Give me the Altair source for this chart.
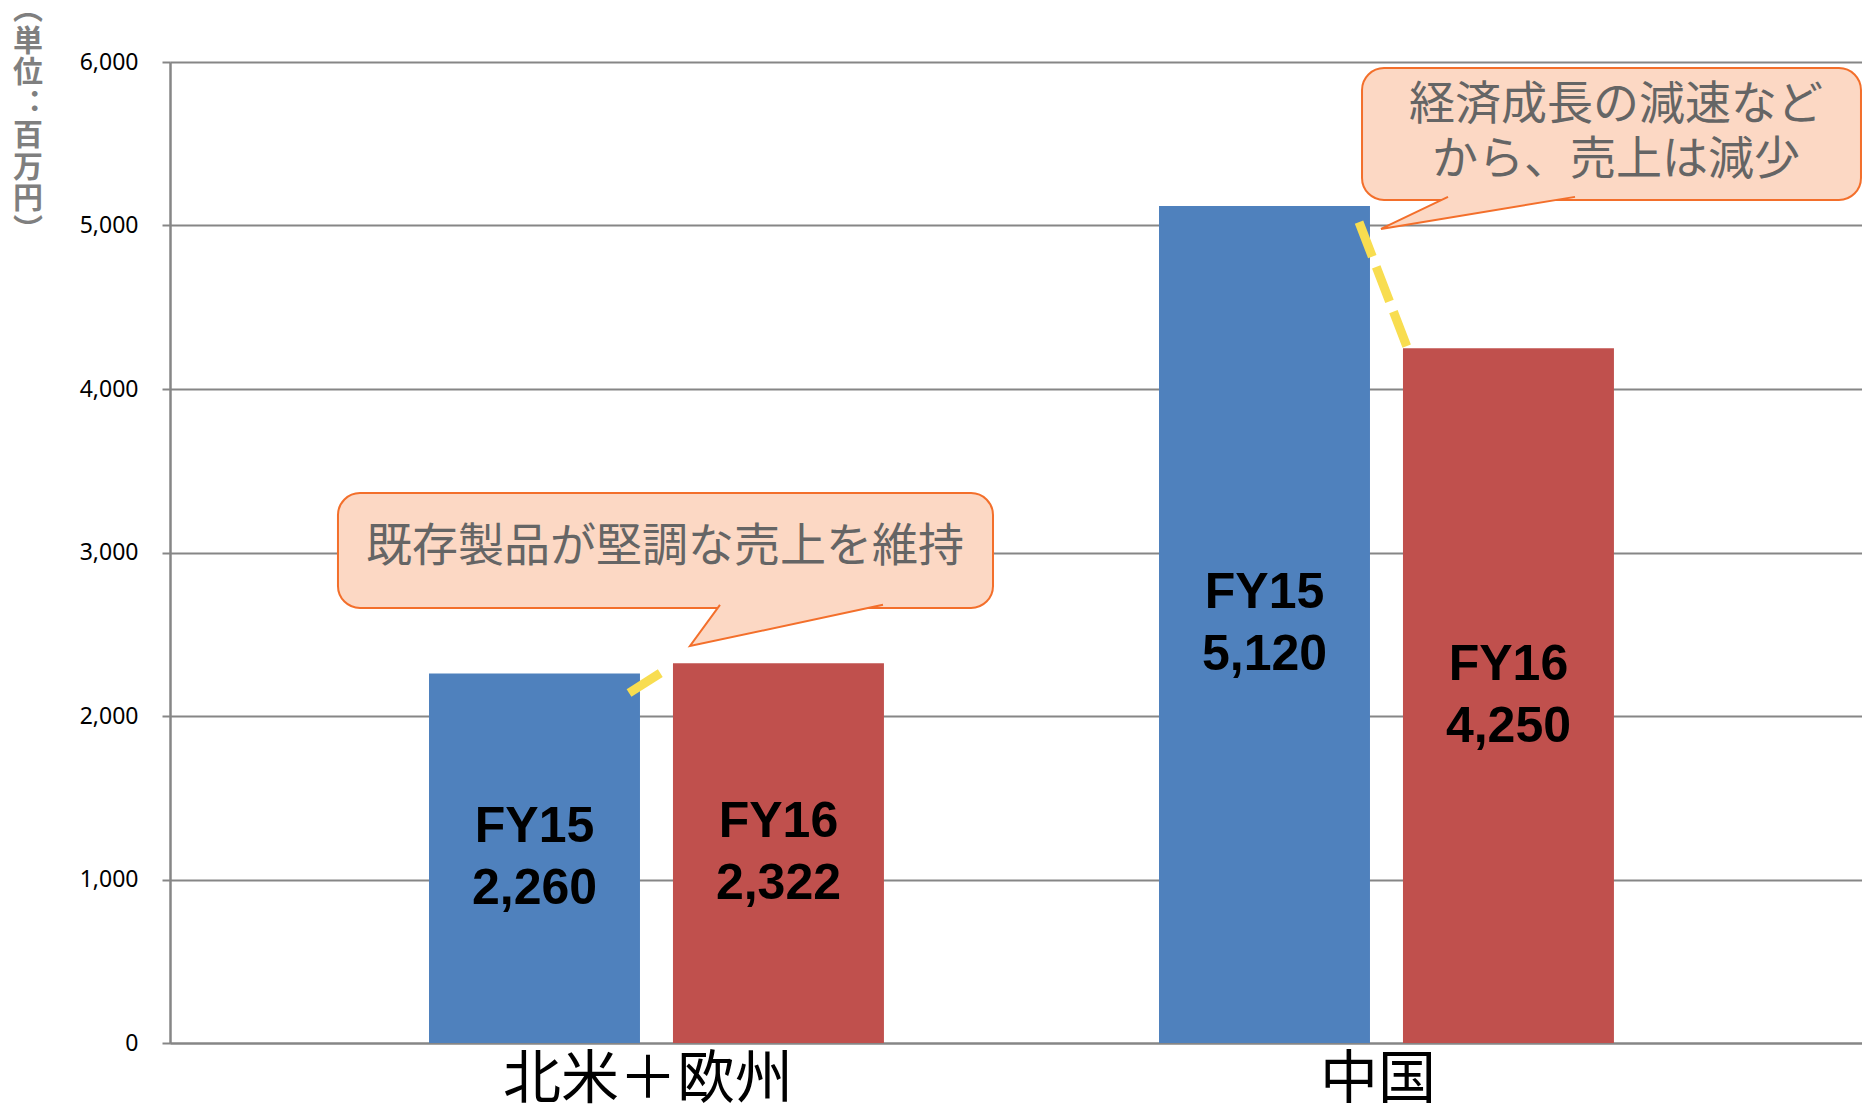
import json
import altair as alt
import pandas as pd

# ---------------- data ----------------
CATEGORIES = ["北米＋欧州", "中国"]
CATEGORY_POS = [1, 2]
SERIES = ["FY15", "FY16"]
FY15_VALUES = [2260, 5120]
FY16_VALUES = [2322, 4250]
Y_TICKS = [0, 1000, 2000, 3000, 4000, 5000, 6000]
Y_TITLE = ["︵", "単", "位", "︓", "百", "万", "円", "︶"]

# annotations, anchored in data coordinates (x: category position, y: 百万円)
CALLOUT1_LINES = ["既存製品が堅調な売上を維持"]
CALLOUT1_TEXT_X = [1.0117]
CALLOUT1_TEXT_Y = [3034]
CALLOUT1_BOX_X = [0.5637]
CALLOUT1_BOX_X2 = [1.4610]
CALLOUT1_BOX_Y = [2661]
CALLOUT1_BOX_Y2 = [3364]
CALLOUT1_POINTER_X = [1.087, 1.0459, 1.3103]
CALLOUT1_POINTER_Y = [2680, 2428, 2680]

CALLOUT2_LINES = ["経済成長の減速など", "から、売上は減少"]
CALLOUT2_TEXT_X = [2.3144, 2.3144]
CALLOUT2_TEXT_Y = [5737, 5401]
CALLOUT2_BOX_X = [1.9665]
CALLOUT2_BOX_X2 = [2.650]
CALLOUT2_BOX_Y = [5156]
CALLOUT2_BOX_Y2 = [5963]
CALLOUT2_POINTER_X = [2.0843, 1.9925, 2.2583]
CALLOUT2_POINTER_Y = [5175, 4979, 5175]

CONNECTOR1_X = [0.9624, 1.0076]
CONNECTOR1_Y = [2141, 2269]
CONNECTOR2_X = [1.9624, 2.0281]
CONNECTOR2_Y = [5021, 4257]

# ---------------- style ----------------
GAP = 0.0226     # half gap between the two bars of a group (category units)
BAR_W = 0.289    # bar width (category units)
X_DOMAIN = [0.3336, 2.6514]
Y_DOMAIN = [0, 6000]
COLORS = ["#4F81BD", "#C0504D"]
GRID = "#868686"
CALLOUT_FILL = "#FCD8C4"
CALLOUT_STROKE = "#F36F2B"
CALLOUT_TEXT = "#656565"
YELLOW = "#F8DD50"

# ---------------- tables ----------------
rows = []
for pos, cat, v15, v16 in zip(CATEGORY_POS, CATEGORIES, FY15_VALUES, FY16_VALUES):
    rows.append({"cat": cat, "series": SERIES[0], "value": v15,
                 "x": pos - GAP - BAR_W, "x2": pos - GAP})
    rows.append({"cat": cat, "series": SERIES[1], "value": v16,
                 "x": pos + GAP, "x2": pos + GAP + BAR_W})
bars_df = pd.DataFrame(rows)

X_SCALE = alt.Scale(domain=X_DOMAIN, nice=False, zero=False)
Y_SCALE = alt.Scale(domain=Y_DOMAIN, nice=False)

label_expr = json.dumps(CATEGORIES, ensure_ascii=False) + "[datum.value - 1]"
X_AXIS = alt.Axis(values=CATEGORY_POS, labelExpr=label_expr, grid=False, ticks=False,
                  tickSize=0, domainColor=GRID, domainWidth=2,
                  labelFont="Noto Sans CJK JP", labelFontSize=58, labelColor="#000000",
                  labelBaseline="middle", labelPadding=37, labelFlush=False,
                  labelOverlap=False, labelLimit=0, labelOffset=-9, title=None)
Y_AXIS = alt.Axis(values=Y_TICKS, format=",.0f", grid=True, gridColor=GRID, gridWidth=2,
                  domainColor=GRID, domainWidth=2.5, tickColor=GRID, tickWidth=2,
                  tickSize=8, labelFont="Noto Sans", labelFontSize=23,
                  labelColor="#000000", labelPadding=24, title=None)


def X(field):
    return alt.X(field, type="quantitative", scale=X_SCALE, axis=X_AXIS)


def Y(field):
    return alt.Y(field, type="quantitative", scale=Y_SCALE, axis=Y_AXIS)


bars = alt.Chart(bars_df).mark_rect().encode(
    x=X("x"), x2="x2", y=Y("value"), y2=alt.datum(0),
    color=alt.Color("series:N", scale=alt.Scale(domain=SERIES, range=COLORS), legend=None),
)

label_base = alt.Chart(bars_df).transform_calculate(
    mid="(datum.x + datum.x2) / 2", half="datum.value / 2"
)
label_series = label_base.mark_text(
    font="Liberation Sans", fontWeight="bold", fontSize=50, color="#000000",
    align="center", baseline="middle", dy=-31,
).encode(x=X("mid"), y=Y("half"), text="series:N")
label_value = label_base.mark_text(
    font="Liberation Sans", fontWeight="bold", fontSize=50, color="#000000",
    align="center", baseline="middle", dy=31,
).encode(x=X("mid"), y=Y("half"), text=alt.Text("value:Q", format=","))


def connector(xs, ys):
    df = pd.DataFrame({"x": xs, "y": ys, "i": list(range(len(xs)))})
    return alt.Chart(df).mark_line(
        color=YELLOW, strokeWidth=9, strokeDash=[37, 11], strokeCap="butt"
    ).encode(x=X("x"), y=Y("y"), order="i:O")


def callout(bx, bx2, by, by2, px, py, tx, ty, lines):
    box_df = pd.DataFrame({"x": bx, "x2": bx2, "y": by, "y2": by2})
    box = alt.Chart(box_df).mark_rect(
        fill=CALLOUT_FILL, stroke=CALLOUT_STROKE, strokeWidth=2, cornerRadius=22
    ).encode(x=X("x"), x2="x2", y=Y("y"), y2="y2")
    ptr_df = pd.DataFrame({"x": px, "y": py, "i": list(range(len(px)))})
    ptr = alt.Chart(ptr_df).mark_line(
        fill=CALLOUT_FILL, stroke=CALLOUT_STROKE, strokeWidth=2, strokeJoin="miter"
    ).encode(x=X("x"), y=Y("y"), order="i:O")
    txt_df = pd.DataFrame({"x": tx, "y": ty, "t": lines})
    txt = alt.Chart(txt_df).mark_text(
        font="Noto Sans CJK JP", fontSize=46, color=CALLOUT_TEXT,
        align="center", baseline="middle",
    ).encode(x=X("x"), y=Y("y"), text="t:N")
    return [box, ptr, txt]


# vertical unit title, placed left of the value axis
y_title = alt.Chart(pd.DataFrame({"k": [0]})).mark_text(
    text=Y_TITLE, font="Noto Sans CJK JP", fontWeight="bold", fontSize=30,
    color="#7F7F7F", align="center", baseline="middle", lineHeight=31.5,
).encode(x=alt.value(-142), y=alt.value(-52))

layers = [bars, label_series, label_value,
          connector(CONNECTOR1_X, CONNECTOR1_Y),
          connector(CONNECTOR2_X, CONNECTOR2_Y)]
layers += callout(CALLOUT1_BOX_X, CALLOUT1_BOX_X2, CALLOUT1_BOX_Y, CALLOUT1_BOX_Y2,
                  CALLOUT1_POINTER_X, CALLOUT1_POINTER_Y,
                  CALLOUT1_TEXT_X, CALLOUT1_TEXT_Y, CALLOUT1_LINES)
layers += callout(CALLOUT2_BOX_X, CALLOUT2_BOX_X2, CALLOUT2_BOX_Y, CALLOUT2_BOX_Y2,
                  CALLOUT2_POINTER_X, CALLOUT2_POINTER_Y,
                  CALLOUT2_TEXT_X, CALLOUT2_TEXT_Y, CALLOUT2_LINES)
layers.append(y_title)

chart = alt.layer(*layers).properties(
    width=1692, height=981,
    autosize=alt.AutoSizeParams(type="none"),
    padding={"left": 162, "top": 54, "right": 0, "bottom": 61},
    background="#FFFFFF",
).configure_view(stroke=None)

chart.save("out.html", embed_options={"renderer": "svg", "actions": False})
